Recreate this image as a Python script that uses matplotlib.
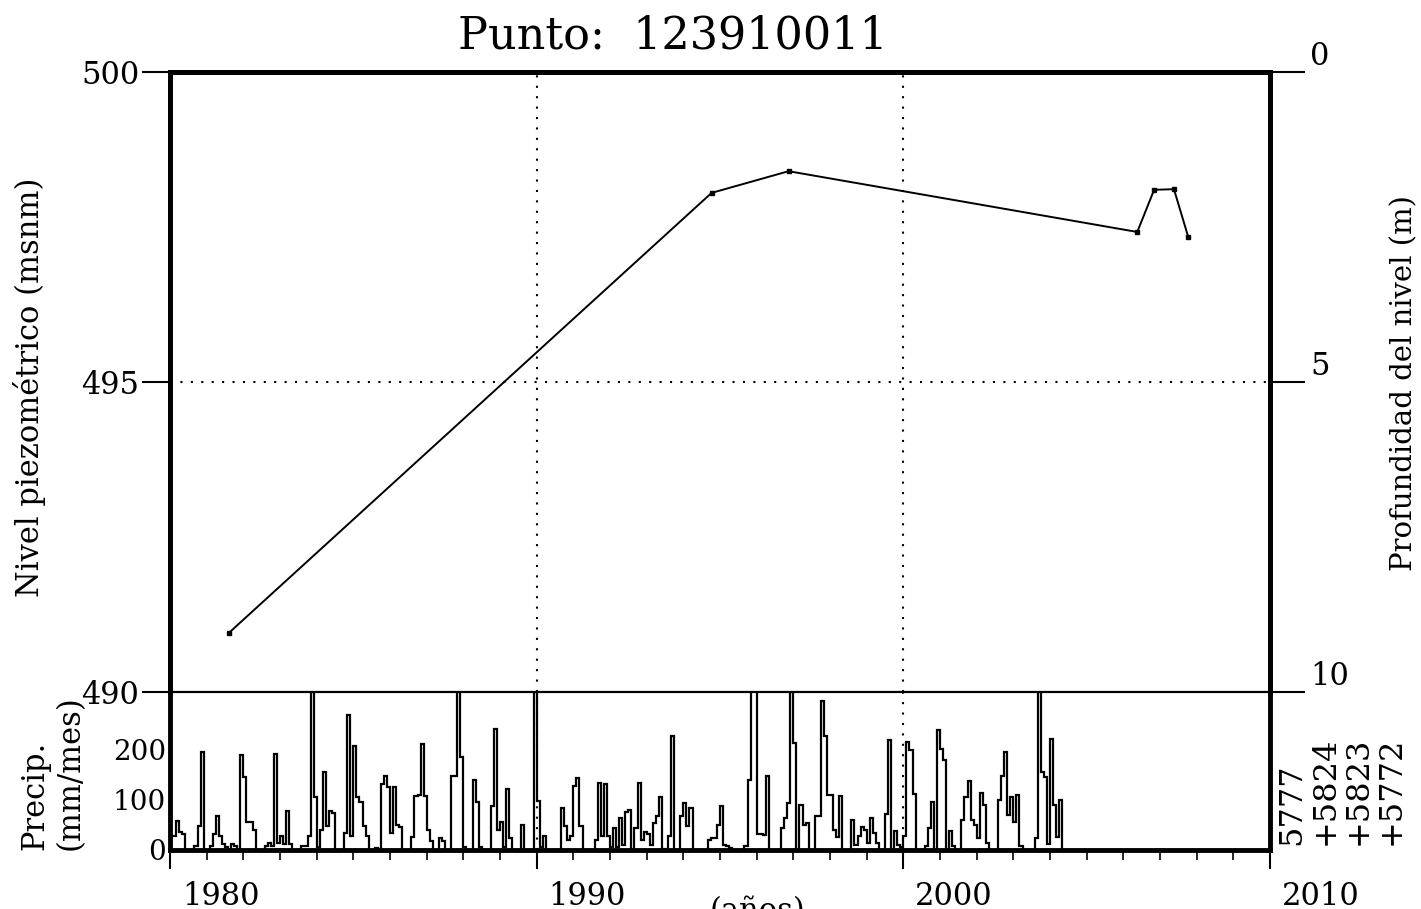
import numpy as np
import matplotlib
matplotlib.use("Agg")
import matplotlib.pyplot as plt
import matplotlib.transforms as mtransforms

plt.rcParams['font.family'] = ['DejaVu Serif']

# Nivel piezometrico (fecha decimal, msnm)
nivel_fechas = [1981.6, 1994.77, 1996.87, 2006.38, 2006.84, 2007.38, 2007.77]
nivel_msnm = [490.95, 498.05, 498.40, 497.42, 498.10, 498.11, 497.34]
cota_terreno = 500.0

# Precipitacion mensual (mm/mes), desde enero 1980
precip_inicio = 1980
precip = [
    27, 27, 57, 35, 32, 0, 0, 0, 7, 48, 195, 0,          # 1980
    0, 8, 32, 68, 27, 12, 5, 0, 12, 7, 0, 190,           # 1981
    145, 55, 55, 40, 0, 0, 0, 7, 13, 7, 192, 13,         # 1982
    27, 12, 77, 12, 0, 0, 0, 7, 7, 27, 320, 105,         # 1983
    5, 40, 155, 47, 77, 73, 0, 0, 0, 33, 270, 27,        # 1984
    208, 105, 95, 47, 27, 0, 0, 3, 0, 132, 148, 125,     # 1985
    33, 125, 50, 45, 0, 0, 0, 25, 108, 110, 212, 108,    # 1986
    40, 17, 0, 0, 23, 17, 0, 0, 147, 147, 320, 185,      # 1987
    5, 0, 0, 140, 95, 5, 0, 0, 0, 88, 241, 40,           # 1988
    55, 5, 121, 23, 0, 0, 0, 50, 0, 0, 0, 320,           # 1989
    97, 5, 27, 0, 0, 0, 0, 0, 83, 47, 20, 27,            # 1990
    127, 143, 47, 0, 0, 0, 0, 20, 133, 28, 132, 27,      # 1991
    5, 43, 5, 63, 10, 75, 79, 0, 43, 133, 20, 35,        # 1992
    32, 10, 53, 67, 105, 2, 0, 27, 228, 0, 0, 67,        # 1993
    93, 47, 83, 0, 0, 0, 0, 0, 20, 23, 23, 50,           # 1994
    88, 10, 7, 3, 0, 0, 0, 0, 7, 140, 320, 320,          # 1995
    32, 32, 30, 147, 0, 0, 0, 0, 43, 63, 93, 320,        # 1996
    213, 0, 90, 50, 53, 0, 0, 68, 68, 297, 227, 110,     # 1997
    110, 39, 25, 107, 0, 0, 0, 59, 10, 27, 45, 40,       # 1998
    13, 63, 33, 13, 0, 0, 72, 220, 0, 37, 10, 5,         # 1999
    27, 215, 200, 112, 0, 0, 0, 7, 43, 95, 0, 240,       # 2000
    201, 180, 0, 37, 7, 0, 0, 60, 105, 137, 60, 50,      # 2001
    23, 113, 90, 13, 0, 0, 0, 100, 148, 195, 70, 105,    # 2002
    55, 110, 7, 0, 0, 0, 0, 23, 320, 156, 146, 12,       # 2003
    222, 90, 26, 100,                                    # 2004
]

estaciones = ["5777", "+5824", "+5823", "+5772"]
anios_ticks = [1980, 1990, 2000, 2010]

W, H = 1421, 909
fig = plt.figure(figsize=(W / 100, H / 100), dpi=100)

x0, x1 = 170 / W, 1270 / W
y_top = 1 - 72 / H
y_mid = 1 - 692 / H
y_bot = 1 - 850 / H

ax = fig.add_axes([x0, y_mid, x1 - x0, y_top - y_mid])
axp = fig.add_axes([x0, y_bot, x1 - x0, y_mid - y_bot], sharex=ax)

# --- panel superior: nivel ---
ax.plot(nivel_fechas, nivel_msnm, color='black', lw=1.4, marker='s', ms=3.5)
ax.set_xlim(1980, 2010)
ax.set_ylim(490, 500)
ax.set_yticks([490, 495, 500])
ax.tick_params(axis='y', direction='out', length=20, width=1.5, labelsize=22, pad=2)
ax.tick_params(axis='x', bottom=False, labelbottom=False)
ax.axhline(495, color='black', ls=(0, (1, 4)), lw=1.5)
for xv in [1990, 2000]:
    ax.axvline(xv, color='black', ls=(0, (1, 4)), lw=1.5)
    axp.axvline(xv, color='black', ls=(0, (1, 4)), lw=1.5)

ax2 = ax.twinx()
ax2.set_ylim(cota_terreno - 490, cota_terreno - 500)
ax2.set_yticks([0, 5, 10])
ax2.tick_params(axis='y', direction='out', length=25, width=1.5, labelsize=22, pad=4)
for lbl in ax2.get_yticklabels():
    lbl.set_va('bottom')

for a in (ax, ax2):
    for s in ['top', 'left', 'right']:
        a.spines[s].set_linewidth(3.5)
    a.spines['bottom'].set_linewidth(1.5)

# --- panel inferior: precipitacion ---
bordes = precip_inicio + np.arange(len(precip) + 1) / 12.0
axp.stairs(precip, bordes, color='black', lw=1.6, baseline=0)
axp.set_ylim(0, 315)
axp.set_yticks([0, 100, 200])
axp.tick_params(axis='y', length=0, labelsize=20, pad=3)
axp.set_xticks(anios_ticks)
axp.set_xticks(np.arange(1980, 2011), minor=True)
axp.tick_params(axis='x', which='major', direction='out', length=14, width=1.5, labelsize=22, pad=8)
axp.tick_params(axis='x', which='minor', direction='out', length=7, width=1.2)
off = mtransforms.ScaledTranslation(12 / 100, 0, fig.dpi_scale_trans)
for lbl in axp.get_xticklabels():
    lbl.set_ha('left')
    lbl.set_transform(lbl.get_transform() + off)
for s in ['left', 'right', 'bottom']:
    axp.spines[s].set_linewidth(3.5)
axp.spines['top'].set_linewidth(1.5)

# --- textos ---
fig.text(673 / W, 1 - 36 / H, "Punto:  123910011", ha='center', va='center', fontsize=32)
fig.text(30 / W, 1 - 387 / H, "Nivel piezométrico (msnm)", rotation=90,
         ha='center', va='center', fontsize=22)
fig.text(1404 / W, 1 - 383 / H, "Profundidad del nivel (m)", rotation=90,
         ha='center', va='center', fontsize=21)
fig.text(35 / W, y_bot, "Precip.", rotation=90, ha='center', va='bottom', fontsize=22)
fig.text(70 / W, y_bot, "(mm/mes)", rotation=90, ha='center', va='bottom', fontsize=22)
for i, est in enumerate(estaciones):
    fig.text((1292 + 33 * i) / W, 1 - 845 / H, est, rotation=90,
             ha='center', va='bottom', fontsize=23)
fig.text(758 / W, 1 - 896 / H, "(años)", ha='center', va='top', fontsize=22)

fig.savefig("out.png", dpi=100)
